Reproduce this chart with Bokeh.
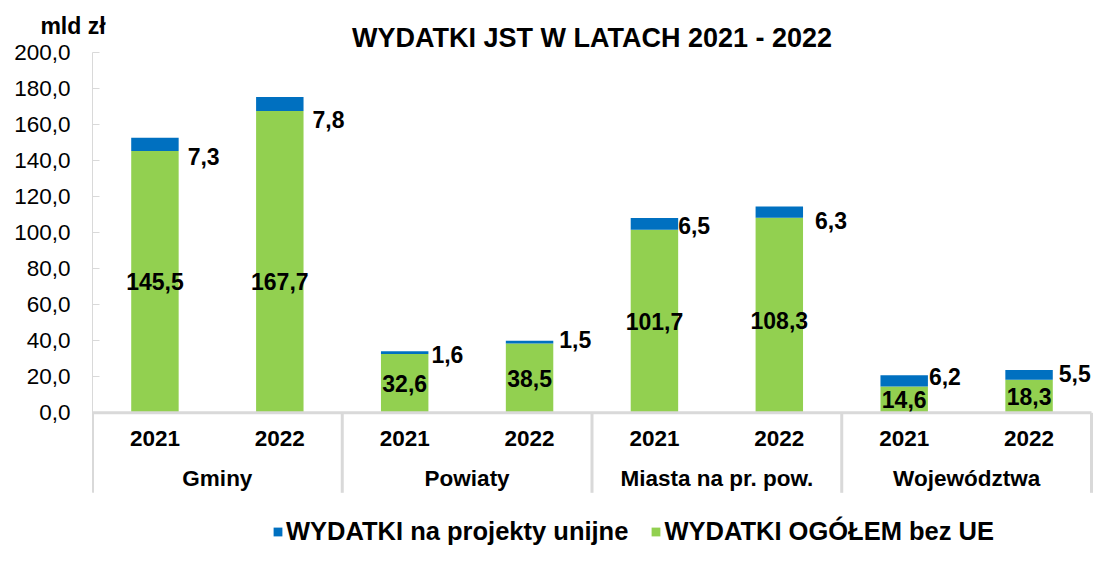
from bokeh.plotting import figure
from bokeh.models import ColumnDataSource, Range1d, FixedTicker, Label, Legend, LegendItem
from bokeh.core.properties import value
from bokeh.embed import file_html
from bokeh.resources import INLINE

# ---------------- data ----------------
groups = ["Gminy", "Powiaty", "Miasta na pr. pow.", "Województwa"]
years = ["2021", "2022"]
wydatki_bez_ue = [145.5, 167.7, 32.6, 38.5, 101.7, 108.3, 14.6, 18.3]
wydatki_ue = [7.3, 7.8, 1.6, 1.5, 6.5, 6.3, 6.2, 5.5]
y_ticks = [0, 20, 40, 60, 80, 100, 120, 140, 160, 180, 200]
series_names = ["WYDATKI na projekty unijne", "WYDATKI OGÓŁEM bez UE"]
title_text = "WYDATKI JST W LATACH 2021 - 2022"
unit_text = "mld zł"

# ---------------- layout / style ----------------
W, H = 1094, 546
LEFT, TOP = 92, 26
ZERO_PX = 412.3       # screen y of value 0
PX_Y = 1.8            # px per unit on y
PX_X = 124.875        # px per slot on x
Y_END = (ZERO_PX - TOP) / PX_Y
Y_START = -(H - ZERO_PX) / PX_Y
X_END = (W - LEFT) / PX_X
BOX_BOTTOM = -80 / PX_Y      # bottom of category box
YEAR_ROW = -26 / PX_Y
GROUP_ROW = -66 / PX_Y
BAR_W = 0.38
BLUE = "#0070C0"
GREEN = "#92D050"
GRID_GREY = "#d9d9d9"
FONT = "Liberation Sans"

# hand placed label tweaks (pixels), as in the original chart
green_lbl_dy = [0, 20, 0, 0, 0, 5, 0, 0]
blue_lbl_dx = [9, 9, 3, 6, 0, 12, 1, 6]
blue_lbl_dy = [6, 9, 0, -4, -4, 3, -10, -6]

fmt = lambda v: f"{v:.1f}".replace(".", ",")

n = len(groups) * len(years)
xs = [i + 0.5 for i in range(n)]
totals = [a + b for a, b in zip(wydatki_bez_ue, wydatki_ue)]

src = ColumnDataSource(dict(
    x=xs, green=wydatki_bez_ue, blue=wydatki_ue, total=totals,
    green_lbl=[fmt(v) for v in wydatki_bez_ue],
    blue_lbl=[fmt(v) for v in wydatki_ue],
    green_lbl_y=[g / 2 - d / PX_Y for g, d in zip(wydatki_bez_ue, green_lbl_dy)],
    blue_lbl_x=[x + BAR_W / 2 + d / PX_X for x, d in zip(xs, blue_lbl_dx)],
    blue_lbl_y=[g - d / PX_Y for g, d in zip(wydatki_bez_ue, blue_lbl_dy)],
))

p = figure(width=W, height=H, output_backend="svg", toolbar_location=None,
           x_range=Range1d(0, X_END), y_range=Range1d(Y_START, Y_END),
           x_axis_location=None, y_axis_location="left",
           min_border_left=LEFT, min_border_top=TOP, min_border_right=0,
           min_border_bottom=0)
p.outline_line_color = None
p.xgrid.visible = False
p.ygrid.visible = False
p.background_fill_color = "white"
p.border_fill_color = "white"

# y axis
ax = p.yaxis[0]
ax.ticker = FixedTicker(ticks=y_ticks)
ax.bounds = (BOX_BOTTOM, 200)
ax.major_label_overrides = {t: fmt(t) for t in y_ticks}
ax.major_label_text_font = FONT
ax.major_label_text_font_size = "22.5px"
ax.major_label_text_color = "black"
ax.major_label_standoff = 22
ax.major_tick_in = 7
ax.major_tick_out = 0
ax.minor_tick_line_color = None
ax.major_tick_line_color = GRID_GREY
ax.axis_line_color = GRID_GREY

# bars
r_green = p.vbar(x="x", bottom=0, top="green", width=BAR_W, source=src,
                 fill_color=GREEN, line_color=None)
r_blue = p.vbar(x="x", bottom="green", top="total", width=BAR_W, source=src,
                fill_color=BLUE, line_color=None)

# category box (multi-level axis)
p.segment(x0=[0], y0=[0], x1=[n], y1=[0], line_color=GRID_GREY, line_width=3)
seps = [i * len(years) for i in range(len(groups) + 1)]
p.segment(x0=seps, y0=[0] * len(seps), x1=seps, y1=[BOX_BOTTOM] * len(seps),
          line_color=GRID_GREY, line_width=3)

year_src = ColumnDataSource(dict(x=xs, t=[years[i % len(years)] for i in range(n)]))
p.text(x="x", y=YEAR_ROW, text="t", source=year_src, text_font=value(FONT),
       text_font_style="bold", text_font_size="22.5px", text_align="center",
       text_baseline="middle", text_color="black")
grp_src = ColumnDataSource(dict(x=[i * len(years) + len(years) / 2 for i in range(len(groups))],
                                t=groups))
p.text(x="x", y=GROUP_ROW, text="t", source=grp_src, text_font=value(FONT),
       text_font_style="bold", text_font_size="22.5px", text_align="center",
       text_baseline="middle", text_color="black")

# value labels
p.text(x="x", y="green_lbl_y", text="green_lbl", source=src, text_font=value(FONT),
       text_font_style="bold", text_font_size="23px", text_align="center",
       text_baseline="middle", text_color="black")
p.text(x="blue_lbl_x", y="blue_lbl_y", text="blue_lbl", source=src, text_font=value(FONT),
       text_font_style="bold", text_font_size="23px", text_align="left",
       text_baseline="middle", text_color="black")

# title (inside the frame, above the 200 line)
p.text(x=[n / 2], y=[(ZERO_PX - 37) / PX_Y], text=[title_text], text_font=value(FONT),
       text_font_style="bold", text_font_size="27px", text_align="center",
       text_baseline="middle", text_color="black")

# unit label, placed in the top panel so it may reach left of the frame
p.add_layout(Label(x=-19.5 / PX_X, y=(ZERO_PX - 25) / PX_Y, text=unit_text,
                   text_font=FONT, text_font_style="bold", text_font_size="23px",
                   text_align="center", text_baseline="middle", text_color="black"),
             "above")

# legend
legend = Legend(items=[LegendItem(label=series_names[0], renderers=[r_blue]),
                       LegendItem(label=series_names[1], renderers=[r_green])],
                orientation="horizontal", location=(272 - LEFT, 0),
                padding=0, margin=0, spacing=22, label_standoff=3,
                glyph_width=11, glyph_height=11,
                label_text_font=FONT, label_text_font_style="bold",
                label_text_font_size="25.5px", label_text_color="black",
                background_fill_alpha=0, border_line_alpha=0)
p.add_layout(legend)

open("out.html", "w").write(file_html(p, INLINE))
